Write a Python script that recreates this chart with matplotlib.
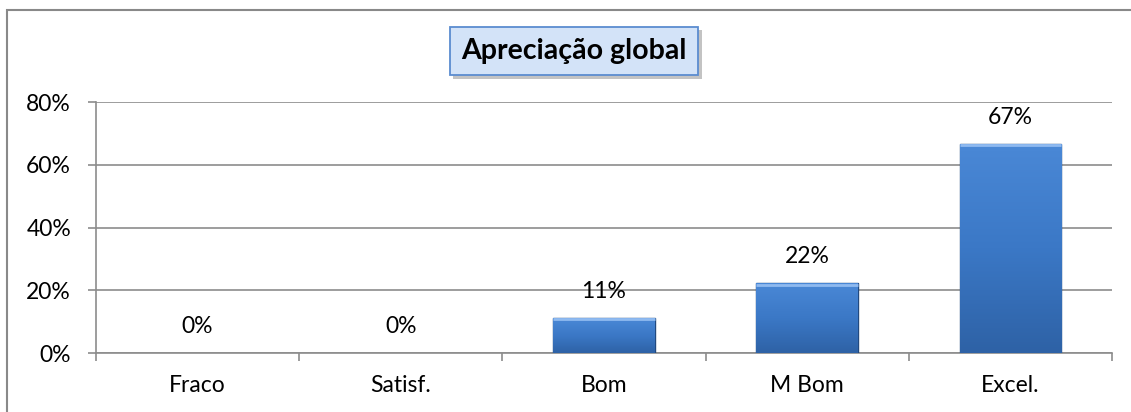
import numpy as np
import matplotlib
matplotlib.use("Agg")
import matplotlib.pyplot as plt
import matplotlib.patheffects as pe
from matplotlib.patches import Rectangle
from matplotlib.colors import LinearSegmentedColormap

# categories and values (percent)
categories = ["Fraco", "Satisf.", "Bom", "M Bom", "Excel."]
values = [0, 0, 11.1, 22.2, 66.7]
labels = ["0%", "0%", "11%", "22%", "67%"]
yticks = [0, 20, 40, 60, 80]
title = "Apreciação global"

plt.rcParams['font.family'] = ['Lato', 'DejaVu Sans']

fig = plt.figure(figsize=(11.31, 4.12), dpi=100)
ax = fig.add_axes([96 / 1131, 59 / 412, 1016 / 1131, 251 / 412])

# outer chart border (cut off right and bottom like the original)
fig.patches.append(Rectangle((7 / 1131, -0.1), 1.2, (412 - 10) / 412 + 0.1,
                             transform=fig.transFigure, fill=False,
                             edgecolor="#898989", linewidth=1.5))

x = np.arange(len(categories))
edges = ["#21497f" if v > 0 else "none" for v in values]
bars = ax.bar(x, values, width=0.5, color="#3d7cc9", edgecolor=edges,
              linewidth=1.0, zorder=3)

# vertical gradient + bevel look on each bar
cmap = LinearSegmentedColormap.from_list("b", ["#4a88d6", "#3b78c6", "#2e62a6"])
grad = np.linspace(0, 1, 100).reshape(-1, 1)
for b in bars:
    h = b.get_height()
    if h <= 0:
        continue
    x0 = b.get_x()
    w = b.get_width()
    im = ax.imshow(grad, extent=(x0, x0 + w, 0, h), cmap=cmap, aspect="auto",
                   origin="upper", zorder=3.5)
    im.set_clip_path(b)
    ax.plot([x0, x0 + w], [h - 0.4, h - 0.4], color="#8fbaf0", lw=2,
            zorder=4, solid_capstyle="butt")

for xi, v, lab in zip(x, values, labels):
    ax.annotate(lab, (xi, v), xytext=(0, 19), textcoords="offset points",
                ha="center", va="center", fontsize=16.5, color="black", zorder=5)

ax.set_xlim(-0.5, len(categories) - 0.5)
ax.set_ylim(0, 80)
ax.set_yticks(yticks)
ax.set_yticklabels([f"{t}%" for t in yticks])
ax.yaxis.grid(True, color="#8c8c8c", linewidth=1.2, zorder=0)
ax.set_axisbelow(True)

ax.set_xticks(x)
ax.set_xticklabels(categories)
ax.set_xticks(np.arange(-0.5, len(categories)), minor=True)
ax.tick_params(axis="x", which="major", length=0, pad=16, labelsize=16.5)
ax.tick_params(axis="x", which="minor", length=6, width=1.2, color="#8c8c8c")
ax.tick_params(axis="y", length=6, width=1.2, color="#8c8c8c", pad=12,
               labelsize=16.5)

for s in ["top", "right"]:
    ax.spines[s].set_visible(False)
for s in ["left", "bottom"]:
    ax.spines[s].set_color("#8c8c8c")
    ax.spines[s].set_linewidth(1.2)

t = fig.text(574 / 1131, 1 - 51 / 412, title, ha="center", va="center",
             fontsize=20.5, fontweight="bold", color="black",
             bbox=dict(boxstyle="square,pad=0.4", facecolor="#d3e3f8",
                       edgecolor="#5b8cd0", linewidth=1.3))
t.get_bbox_patch().set_path_effects([
    pe.SimplePatchShadow(offset=(2.5, -2.5), shadow_rgbFace="#888888", alpha=0.5),
    pe.Normal()])

fig.savefig("out.png", dpi=100)
